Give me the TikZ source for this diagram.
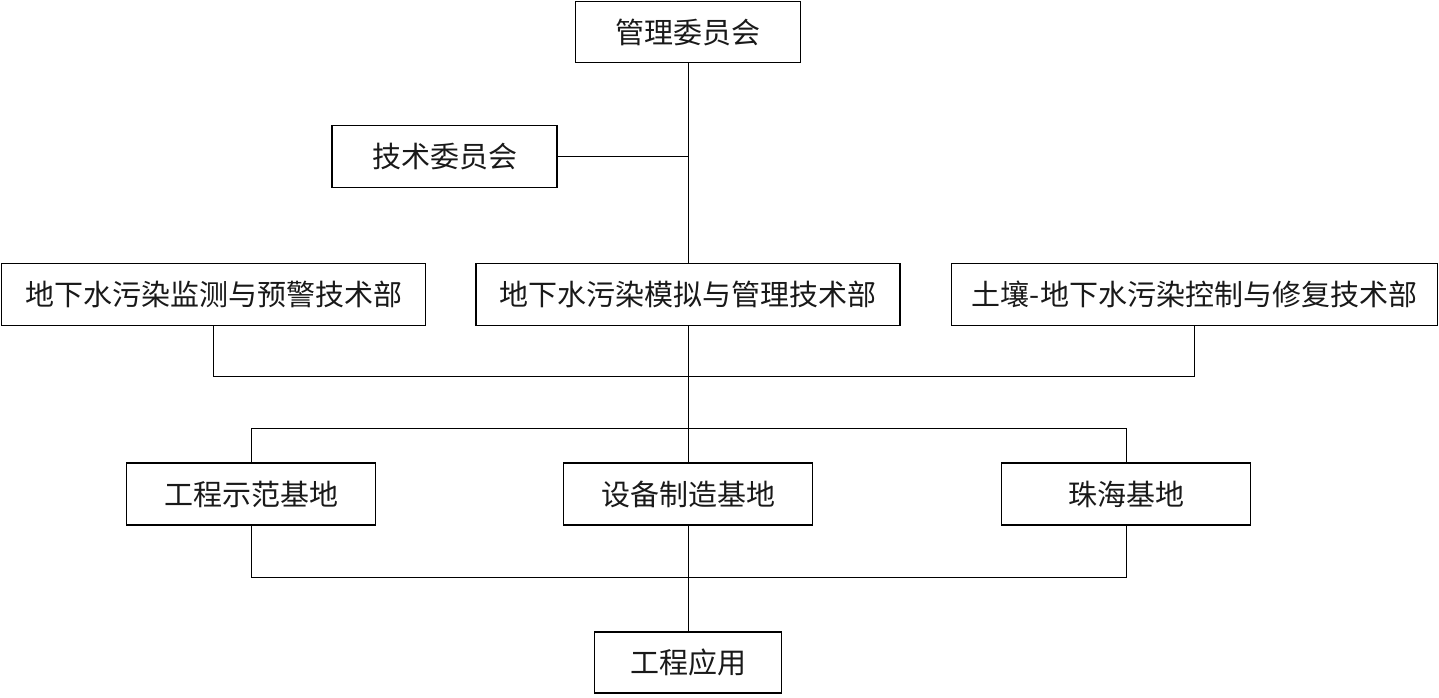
\documentclass[tikz,border=0pt]{standalone}
\usepackage{fontspec}
\setmainfont{Noto Sans CJK SC}
\begin{document}
\begin{tikzpicture}[x=1pt,y=-1pt,
  box/.style={draw=black,line width=1.8pt,inner sep=0pt,font=\fontsize{29}{34}\selectfont,text=black!90},
  conn/.style={draw=black,line width=1pt}]
\useasboundingbox (0,0) rectangle (1439,698);
\node[box,minimum width=225,minimum height=61] (top) at (688,32) {管理委员会};
\node[box,minimum width=225,minimum height=62] (tech) at (444.5,156.5) {技术委员会};
\node[box,minimum width=424,minimum height=62] (d1) at (213.5,294.5) {地下水污染监测与预警技术部};
\node[box,minimum width=424,minimum height=62] (d2) at (688,294.5) {地下水污染模拟与管理技术部};
\node[box,minimum width=486,minimum height=62] (d3) at (1194.5,294.5) {土壤-地下水污染控制与修复技术部};
\node[box,minimum width=249,minimum height=62] (b1) at (251,494) {工程示范基地};
\node[box,minimum width=249,minimum height=62] (b2) at (688,494) {设备制造基地};
\node[box,minimum width=249,minimum height=62] (b3) at (1126,494) {珠海基地};
\node[box,minimum width=187,minimum height=61] (app) at (688,662.5) {工程应用};
\coordinate (bus1) at (688,376);
\coordinate (bus2) at (688,428);
\coordinate (bus3) at (688,577);
\draw[conn] (top.south) -- (d2.north);
\draw[conn] (tech.east) -- (tech.east -| top.south);
\draw[conn] (d1.south) -- (d1.south |- bus1) -- (d3.south |- bus1) -- (d3.south);
\draw[conn] (d2.south) -- (b2.north);
\draw[conn] (b1.north) -- (b1.north |- bus2) -- (b3.north |- bus2) -- (b3.north);
\draw[conn] (b1.south) -- (b1.south |- bus3) -- (b3.south |- bus3) -- (b3.south);
\draw[conn] (b2.south) -- (app.north);
\end{tikzpicture}
\end{document}
